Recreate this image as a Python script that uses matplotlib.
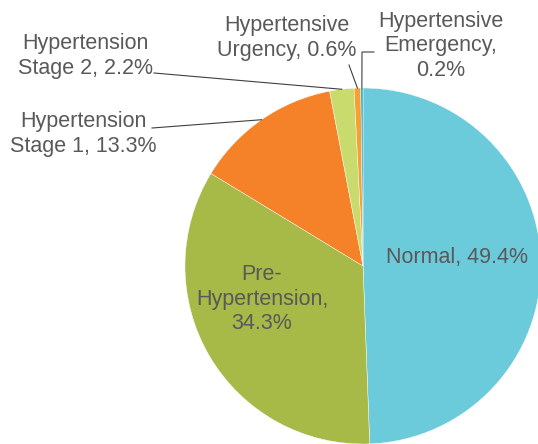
import numpy as np
import matplotlib.pyplot as plt

plt.rcParams['font.family'] = ['Liberation Sans', 'DejaVu Sans']

# ------------------------------------------------------------
# Blood pressure categories (share of population, %)
# ------------------------------------------------------------
categories = ["Normal", "Pre-\nHypertension", "Hypertension\nStage 1",
              "Hypertension\nStage 2", "Hypertensive\nUrgency",
              "Hypertensive\nEmergency"]
shares = [49.4, 34.3, 13.3, 2.2, 0.6, 0.2]
colors = ["#6CCBDB", "#A7B947", "#F58228", "#C9DB6C", "#F5A030", "#3AA9C9"]

# Canvas in pixel units (y up)
W, H = 538, 444
cx, cy, R = 363, H - 266, 178

fig = plt.figure(figsize=(W / 100, H / 100), dpi=100)
ax = fig.add_axes([0, 0, 1, 1])

wedges, _ = ax.pie(shares, colors=colors, startangle=90, counterclock=False,
                   center=(cx, cy), radius=R, frame=True,
                   wedgeprops=dict(edgecolor='white', linewidth=0.3))
ax.set_xlim(0, W)
ax.set_ylim(0, H)
ax.set_aspect('equal')
ax.axis('off')

txt_kw = dict(fontsize=15.5, color='#595959', ha='center', va='center',
              linespacing=1.22)

# Inside labels
ax.text(457, H - 258, f"{categories[0]}, {shares[0]}%", **txt_kw)
ax.text(262, H - 299, f"{categories[1]},\n{shares[1]}%", **txt_kw)

# Outside labels (text position, leader start)
outside = {
    2: ((83, 134), [(152, 128)]),
    3: ((85, 56), [(154, 73)]),
    4: ((287, 38), [(349, 65)]),
    5: ((441, 46), [(374, 52), (362, 52)]),
}


def edge_point(i):
    frac = (sum(shares[:i]) + shares[i] / 2) / sum(shares)
    ang = np.deg2rad(90 - 360 * frac)
    return cx + R * np.cos(ang), cy + R * np.sin(ang)


for i, ((tx, ty), pts) in outside.items():
    name = categories[i]
    if i == 5:
        label = "Hypertensive\nEmergency,\n" + f"{shares[i]}%"
    else:
        first, second = name.split("\n")
        label = f"{first}\n{second}, {shares[i]}%"
    ax.text(tx, H - ty, label, **txt_kw)
    ex, ey = edge_point(i)
    xs = [p[0] for p in pts] + [ex]
    ys = [H - p[1] for p in pts] + [ey]
    ax.plot(xs, ys, color='#404040', linewidth=0.8)

fig.savefig("out.png", dpi=100)
